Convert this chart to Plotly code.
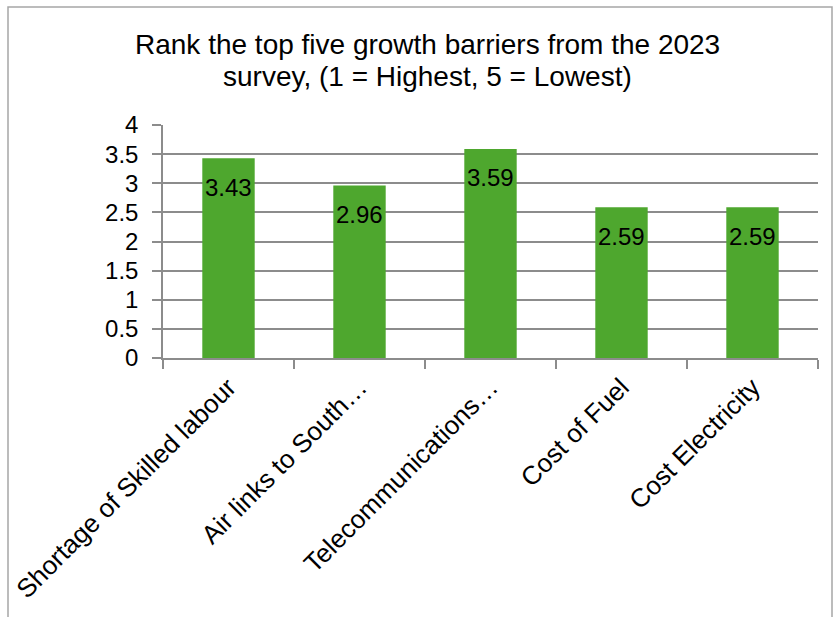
import plotly.graph_objects as go

categories = ["Shortage of Skilled labour", "Air links to South…", "Telecommunications…",
              "Cost of Fuel", "Cost Electricity"]
values = [3.43, 2.96, 3.59, 2.59, 2.59]
labels = ["3.43", "2.96", "3.59", "2.59", "2.59"]
title_lines = ["Rank the top five growth barriers from the 2023",
               "survey, (1 = Highest, 5 = Lowest)"]

FONT = "Liberation Sans, Arial, sans-serif"
GRID = "#8c8c8c"

fig = go.Figure()
fig.add_trace(go.Bar(x=categories, y=values, marker=dict(color="#4EA72E", line=dict(width=0)),
                     width=0.4, hoverinfo="skip"))

for c, v, t in zip(categories, values, labels):
    fig.add_annotation(x=c, y=v, text=t, showarrow=False, yanchor="middle", yshift=-29,
                       font=dict(family=FONT, size=24, color="#000000"))

L, R, T, B = 163, 16, 125, 259
W, H = 834, 617
pw, ph = W - L - R, H - T - B
def px_x(p):
    return (p - L) / pw
def px_y(p):
    return (H - B - p) / ph

for line, ypx in zip(title_lines, [44, 76]):
    fig.add_annotation(text=line, xref="paper", yref="paper", x=px_x(427), y=px_y(ypx),
                       xanchor="center", yanchor="middle", showarrow=False,
                       font=dict(family=FONT, size=28, color="#000000"))

fig.add_shape(type="rect", xref="paper", yref="paper",
              x0=px_x(8), x1=px_x(832), y0=px_y(640), y1=px_y(7),
              line=dict(color="#a6a6a6", width=1.5), fillcolor="rgba(0,0,0,0)", layer="below")

fig.update_layout(
    width=W, height=H,
    margin=dict(l=L, r=R, t=T, b=B, autoexpand=False),
    paper_bgcolor="white", plot_bgcolor="white",
    showlegend=False,
    font=dict(family=FONT, size=24, color="#000000"),
    xaxis=dict(showline=True, linecolor=GRID, linewidth=1.5, ticks="outside", tickson="boundaries",
               ticklen=9, tickcolor=GRID, tickwidth=1.5, tickangle=-45, showgrid=False,
               ticklabelstandoff=2, automargin=False,
               tickfont=dict(family=FONT, size=26, color="#000000")),
    yaxis=dict(range=[0, 4], dtick=0.5, showline=True, linecolor=GRID, linewidth=1.5,
               ticks="outside", ticklen=9, tickcolor=GRID, tickwidth=1.5,
               showgrid=True, gridcolor=GRID, gridwidth=1.5, zeroline=False,
               ticklabelstandoff=9, automargin=False,
               tickfont=dict(family=FONT, size=24, color="#000000")),
)

fig.write_html("out.html")
